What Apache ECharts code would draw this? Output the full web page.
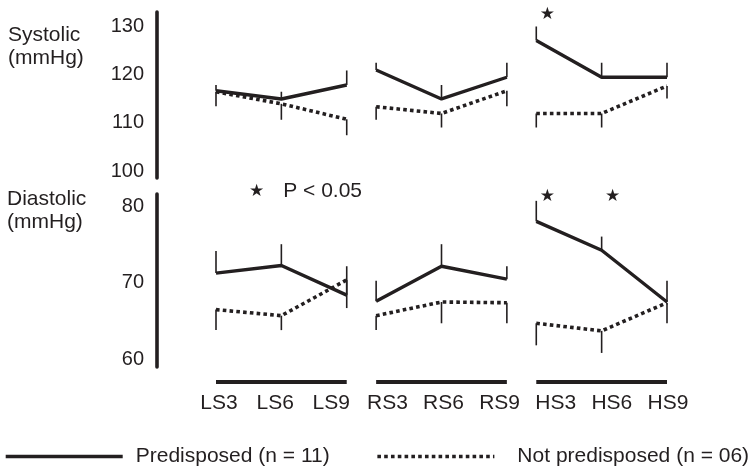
<!DOCTYPE html>
<html lang="en">
<head>
<meta charset="UTF-8" />
<title>Blood pressure</title>
<script src="https://cdn.jsdelivr.net/npm/echarts@6.0.0/dist/echarts.min.js"></script>
<style>
  html, body { margin: 0; padding: 0; background: #fff; }
  #main { width: 753px; height: 469px; }
</style>
</head>
<body>
<div id="main"></div>
<script type="text/javascript">
  // x labels, three groups of three
  let categories = ["LS3", "LS6", "LS9", "RS3", "RS6", "RS9", "HS3", "HS6", "HS9"];
  let sysTicks = [100, 110, 120, 130];
  let diaTicks = [60, 70, 80];

  // systolic (mmHg): means and error bar lengths
  let sysPre = [116.6, 114.9, 117.8, 120.9, 114.9, 119.4, 127.0, 119.4, 119.4];
  let sysPreErr = [1.2, 1.5, 3.0, 1.5, 2.9, 3.0, 2.9, 3.0, 3.0];
  let sysNot = [116.4, 113.9, 110.7, 113.3, 111.9, 116.6, 111.9, 111.9, 117.6];
  let sysNotErr = [3.0, 3.3, 3.3, 2.7, 2.9, 3.2, 2.9, 2.9, 2.6];

  // diastolic (mmHg)
  let diaPre = [71.3, 72.3, 68.4, 67.6, 72.2, 70.5, 78.1, 74.3, 67.5];
  let diaPreErr = [2.9, 2.8, 3.8, 2.7, 2.9, 1.7, 2.7, 1.8, 2.8];
  let diaNot = [66.5, 65.7, 70.4, 65.7, 67.5, 67.4, 64.7, 63.7, 67.4];
  let diaNotErr = [2.7, 1.9, 3.7, 1.9, 2.8, 2.7, 2.9, 2.9, 2.7];

  // 1 = P < 0.05
  let sysSig = [0, 0, 0, 0, 0, 0, 1, 0, 0];
  let diaSig = [0, 0, 0, 0, 0, 0, 1, 1, 0];

  const PRE = "Predisposed (n = 11)";
  const NOT = "Not predisposed (n = 06)";
  const INK = "#231f20";
  const FONT = "Liberation Sans, Arial, sans-serif";
  const GROUP_STEP = 2.45; // 3 points + small gap between groups
  const DOTS = [3.6, 3.2];

  function xPos(i) {
    return Math.floor(i / 3) * GROUP_STEP + (i % 3);
  }

  // line data, broken between groups
  function lineData(values) {
    let out = [];
    values.forEach((v, i) => {
      if (i > 0 && i % 3 === 0) out.push([xPos(i) - 0.2, "-"]);
      out.push([xPos(i), v]);
    });
    return out;
  }

  function lineSeries(name, values, grid, dotted) {
    return {
      name: name,
      type: "line",
      xAxisIndex: grid,
      yAxisIndex: grid,
      data: lineData(values),
      symbol: "none",
      connectNulls: false,
      itemStyle: { color: INK },
      lineStyle: { color: INK, width: dotted ? 3.6 : 3.4, type: dotted ? DOTS : "solid", cap: "butt" },
      z: 2,
    };
  }

  // one-sided error bars, dir = +1 up, -1 down
  function errorBars(values, errs, dir, grid) {
    return {
      type: "custom",
      xAxisIndex: grid,
      yAxisIndex: grid,
      data: values.map((v, i) => [xPos(i), v, v + dir * errs[i]]),
      renderItem: (params, api) => {
        let a = api.coord([api.value(0), api.value(1)]);
        let b = api.coord([api.value(0), api.value(2)]);
        return {
          type: "line",
          shape: { x1: a[0], y1: a[1], x2: b[0], y2: b[1] },
          style: { stroke: INK, lineWidth: 1.6 },
        };
      },
      silent: true,
      z: 3,
    };
  }

  function stars(sig, grid) {
    return {
      type: "custom",
      xAxisIndex: grid,
      yAxisIndex: grid,
      data: sig.map((s, i) => [xPos(i), s]).filter((d) => d[1] === 1),
      renderItem: (params, api) => {
        let p = api.coord([api.value(0), 0]);
        return {
          type: "text",
          style: {
            text: "★",
            x: p[0] + 11,
            y: params.coordSys.y + 3,
            fill: INK,
            font: "17px DejaVu Sans",
            align: "center",
            verticalAlign: "middle",
          },
        };
      },
      silent: true,
    };
  }

  // thick bar under each group
  let groupBars = {
    type: "custom",
    xAxisIndex: 1,
    yAxisIndex: 1,
    data: [0, 1, 2].map((g) => [g * GROUP_STEP, g * GROUP_STEP + 2]),
    renderItem: (params, api) => {
      let y = params.coordSys.y + params.coordSys.height + 15;
      let x1 = api.coord([api.value(0), 70])[0];
      let x2 = api.coord([api.value(1), 70])[0];
      return {
        type: "line",
        shape: { x1: x1, y1: y, x2: x2, y2: y },
        style: { stroke: INK, lineWidth: 4 },
      };
    },
    silent: true,
  };

  function yAxis(grid, min, max, ticks) {
    return {
      gridIndex: grid,
      type: "value",
      min: min,
      max: max,
      offset: 59,
      axisLine: { show: true, onZero: false, lineStyle: { color: INK, width: 3.6 } },
      axisTick: { show: false },
      splitLine: { show: false },
      axisLabel: { customValues: ticks, fontSize: 20, color: INK, margin: 13, fontFamily: FONT },
    };
  }

  let titleStyle = { fontSize: 21, fontWeight: "normal", lineHeight: 23, color: INK, fontFamily: FONT };

  let options = {
    animation: false,
    backgroundColor: "#fff",
    title: [
      { text: "Systolic\n(mmHg)", left: 8, top: 24, padding: 0, textStyle: titleStyle },
      { text: "Diastolic\n(mmHg)", left: 7, top: 188, padding: 0, textStyle: titleStyle },
      {
        text: "{s|★}P < 0.05",
        left: 249,
        top: 180,
        padding: 0,
        textStyle: Object.assign({}, titleStyle, {
          rich: { s: { fontSize: 17, fontFamily: "DejaVu Sans", color: INK, padding: [0, 19, 0, 0] } },
        }),
      },
    ],
    legend: {
      data: [PRE, { name: NOT, textStyle: { padding: [0, 0, 0, 18] } }],
      left: 4,
      top: 446,
      padding: 0,
      itemWidth: 117,
      itemHeight: 14,
      itemGap: 46,
      itemStyle: { opacity: 0 },
      lineStyle: { width: 3.4 },
      textStyle: { fontSize: 21, color: INK, fontFamily: FONT, padding: [0, 0, 0, 8] },
    },
    grid: [
      { left: 216, right: 86, top: 12, height: 166 },
      { left: 216, right: 86, top: 194, height: 173 },
      { left: 191, width: 505, top: 386, height: 1 },
    ],
    xAxis: [
      { gridIndex: 0, type: "value", min: 0, max: 6.9, show: false },
      { gridIndex: 1, type: "value", min: 0, max: 6.9, show: false },
      {
        gridIndex: 2,
        type: "category",
        data: categories,
        axisLine: { show: false },
        axisTick: { show: false },
        axisLabel: { fontSize: 21, color: INK, margin: 6, fontFamily: FONT },
      },
    ],
    yAxis: [
      yAxis(0, 98.55, 132.9, sysTicks),
      yAxis(1, 58.95, 81.7, diaTicks),
      { gridIndex: 2, show: false },
    ],
    series: [
      lineSeries(PRE, sysPre, 0, false),
      lineSeries(NOT, sysNot, 0, true),
      errorBars(sysPre, sysPreErr, 1, 0),
      errorBars(sysNot, sysNotErr, -1, 0),
      stars(sysSig, 0),
      lineSeries(PRE, diaPre, 1, false),
      lineSeries(NOT, diaNot, 1, true),
      errorBars(diaPre, diaPreErr, 1, 1),
      errorBars(diaNot, diaNotErr, -1, 1),
      stars(diaSig, 1),
      groupBars,
    ],
  };

  let myChart = echarts.init(document.getElementById("main"));
  myChart.setOption(options);
</script>
</body>
</html>
